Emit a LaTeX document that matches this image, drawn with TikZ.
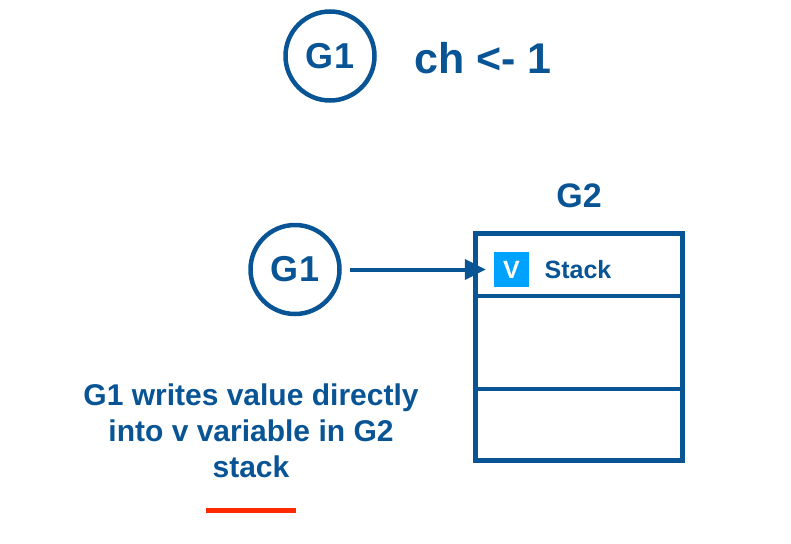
\documentclass[tikz,border=0pt]{standalone}
\usepackage{fontspec}
\setmainfont{Liberation Sans}
\usetikzlibrary{arrows.meta}
\definecolor{gblue}{RGB}{8,84,148}
\definecolor{vblue}{RGB}{0,162,255}
\definecolor{redmark}{RGB}{255,42,0}

\begin{document}
\begin{tikzpicture}[x=1pt,y=-1pt,
  gcirc/.style={circle, draw=gblue, line width=4.5pt, minimum size=89pt, inner sep=0pt,
    text=gblue, font=\fontsize{36}{42}\selectfont\bfseries},
  bluetext/.style={text=gblue, inner sep=0pt, font=\bfseries},
  stackbox/.style={draw=gblue, line width=5.5pt, minimum width=207pt, minimum height=227pt, inner sep=0pt},
  divider/.style={draw=gblue, line width=4pt},
  vbox/.style={fill=vblue, text=white, minimum size=35pt, inner sep=0pt,
    font=\fontsize{25}{28}\selectfont\bfseries},
  arr/.style={draw=gblue, line width=4pt, -{Triangle[length=21pt,width=20pt]}}]
\useasboundingbox (0,0) rectangle (791,543);

% Channel send
\node[gcirc] (g1top) at (330,56) {G1};
\node[bluetext, font=\fontsize{43}{50}\selectfont\bfseries] (chop) at (483,58) {ch <- 1};

% G2 stack frame
\node[stackbox] (stack) at (579,347) {};
\node[bluetext, font=\fontsize{34}{40}\selectfont\bfseries] (g2lbl) at (579,196) {G2};
\draw[divider] ([yshift=-65.5pt]stack.north west) -- ([yshift=-65.5pt]stack.north east);
\draw[divider] ([yshift=-158.5pt]stack.north west) -- ([yshift=-158.5pt]stack.north east);
\node[vbox] (vvar) at (511.5,269.5) {V};
\node[bluetext, font=\fontsize{25}{30}\selectfont\bfseries] (stacklbl) at (578,270) {Stack};

% G1 writes into v
\node[gcirc] (g1mid) at (295,269.5) {G1};
\draw[arr, shorten <=8pt, shorten >=8pt] (g1mid) -- (vvar.west |- g1mid);

% Note
\node[bluetext, align=center, font=\fontsize{30}{36}\selectfont\bfseries] (note) at (251,431)
  {G1 writes value directly\\into v variable in G2\\stack};
\coordinate (redl) at (206,510);
\coordinate (redr) at (296,510);
\draw[redmark, line width=5pt] (redl) -- (redr);
\end{tikzpicture}
\end{document}
